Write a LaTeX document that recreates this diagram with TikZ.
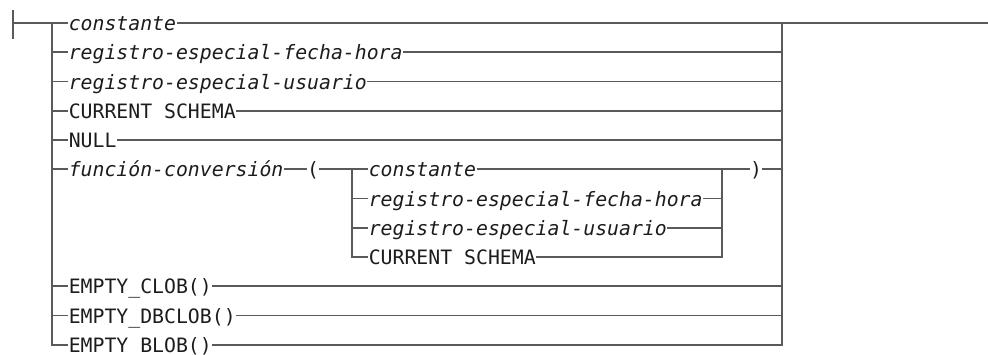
\documentclass[tikz,border=0pt]{standalone}
\usepackage{fontspec}
\setmonofont{DejaVu Sans Mono}
\definecolor{rail}{HTML}{5A5A5A}
\definecolor{ink}{HTML}{1C1C1C}
\tikzset{
  kw/.style={inner xsep=0.5pt, inner ysep=0pt, text=ink,
    font=\ttfamily\fontsize{19.8}{22}\selectfont},
  var/.style={kw, font=\ttfamily\itshape\fontsize{19.8}{22}\selectfont},
}
\begin{document}
\begin{tikzpicture}[x=1pt, y=-1pt, line width=1.6pt, line cap=rect, draw=rail]
  \useasboundingbox (0,0) rectangle (988,354);

  % Start and end of the rail
  \coordinate (top) at (13,11);
  \coordinate (bot) at (13,38);
  \coordinate (start) at (13,23);
  \coordinate (end) at (988,23);
  \draw (top) -- (bot);

  % Outer choices
  \foreach \i/\y/\t/\s in {1/23/constante/var,
      2/52.25/registro-especial-fecha-hora/var,
      3/81.5/registro-especial-usuario/var,
      4/110.75/CURRENT SCHEMA/kw,
      5/140/NULL/kw,
      6/169.25/función-conversión/var,
      7/286.25/EMPTY\_CLOB()/kw,
      8/315.5/EMPTY\_DBCLOB()/kw,
      9/344.75/EMPTY\_BLOB()/kw} {
    \coordinate (L\i) at (52,\y);
    \coordinate (R\i) at (782,\y);
    \node[\s, anchor=base west] (t\i) at (67.5,\y+7.5) {\t};
    \draw (L\i) -- (t\i.west |- L\i);
  }
  \foreach \i in {1,2,3,4,5,7,8,9}
    \draw (t\i.east |- L\i) -- (R\i);
  \draw (start) -- (L1);
  \draw (L1) -- (L9);
  \draw (R1) -- (R9);
  \draw (R1) -- (end);

  % Conversion function
  \node[kw, anchor=base] (open) at (313,176.75) {(};
  \node[kw, anchor=base] (close) at (756,176.75) {)};
  \coordinate (il) at (352,169.25);
  \coordinate (ir) at (722,169.25);
  \draw (t6.east |- L6) -- (open.west |- L6);
  \draw (open.east |- L6) -- (il);
  \draw (ir) -- (close.west |- R6);
  \draw (close.east |- R6) -- (R6);

  % Inner choices
  \foreach \i/\y/\t/\s in {1/169.25/constante/var,
      2/198.5/registro-especial-fecha-hora/var,
      3/227.75/registro-especial-usuario/var,
      4/257/CURRENT SCHEMA/kw} {
    \coordinate (iL\i) at (352,\y);
    \coordinate (iR\i) at (722,\y);
    \node[\s, anchor=base west] (u\i) at (367.5,\y+7.5) {\t};
    \draw (iL\i) -- (u\i.west |- iL\i);
    \draw (u\i.east |- iL\i) -- (iR\i);
  }
  \draw (iL1) -- (iL4);
  \draw (iR1) -- (iR4);
\end{tikzpicture}
\end{document}
